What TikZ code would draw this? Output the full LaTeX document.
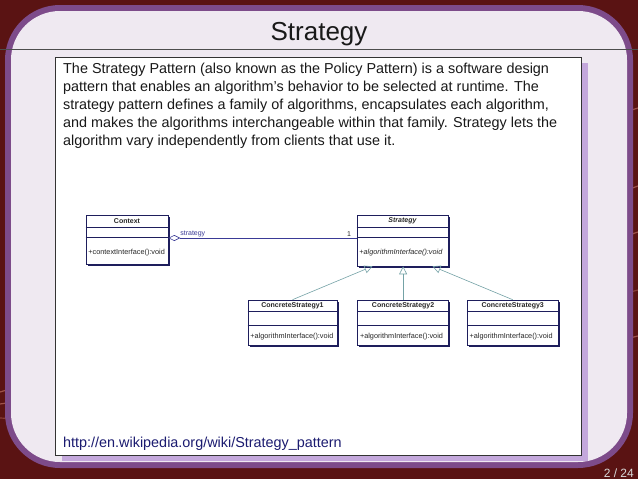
\documentclass[tikz,border=0pt]{standalone}
\usepackage{fontspec}
\setmainfont{Liberation Sans}
\usepackage{xcolor}
\usetikzlibrary{arrows.meta}
\usetikzlibrary{positioning}
\usetikzlibrary{shadows}
\definecolor{bgred}{HTML}{5A1313}
\definecolor{bandpurple}{HTML}{7D4B8A}
\definecolor{panel}{HTML}{EFE9F1}
\definecolor{lavshadow}{HTML}{C4A8DC}
\definecolor{umlnavy}{HTML}{1E1E5C}
\definecolor{umlblue}{HTML}{3A3A96}
\definecolor{genteal}{HTML}{74A2A6}
\definecolor{urlblue}{HTML}{1B1B70}
\definecolor{streak}{HTML}{F0A090}

\begin{document}
\begin{tikzpicture}[x=1pt,y=-1pt,
	class box/.style={draw=umlnavy, fill=white, line width=0.6pt, inner sep=0pt,
		drop shadow={shadow xshift=1.8pt, shadow yshift=-1.8pt, fill=umlnavy, opacity=1}},
	class line/.style={draw=umlnavy, line width=0.5pt},
	class name/.style={font=\fontsize{7}{8}\selectfont\bfseries, text=black!85, inner sep=0pt},
	class op/.style={font=\fontsize{7.3}{8}\selectfont, text=black!85, inner sep=0pt, anchor=west},
	assoc label/.style={font=\fontsize{7}{8}\selectfont, inner sep=1pt},
	gen arrow/.style={draw=genteal, line width=0.6pt, -{Triangle[open, length=8pt, width=8pt]}},
	body text/.style={font=\fontsize{14.4}{18}\selectfont, text=black!90, align=left, inner sep=0pt},
	streak line/.style={draw=streak, line width=1.2pt, opacity=0.45}]
	% Background and panel
	\useasboundingbox (0,0) rectangle (638,479);
	\fill[bgred] (0,0) rectangle (638,479);
	\draw[streak line] (0,392) -- (40,380);
	\draw[streak line] (0,404) -- (40,398);
	\draw[streak line, opacity=0.3] (0,418) -- (40,420);
	\draw[streak line] (600,120) -- (638,108);
	\draw[streak line] (600,200) -- (638,186);
	\draw[streak line] (600,245) -- (638,232);
	\draw[streak line, opacity=0.3] (600,300) -- (638,290);
	\draw[streak line] (600,345) -- (638,336);
	\fill[bandpurple, rounded corners=55pt] (5,5) rectangle (633,468);
	\fill[panel, rounded corners=49pt] (11,11) rectangle (627,462);
	\draw[black!70, line width=0.8pt] (0,49) -- (638,49);
	
	% Title and text box
	\node[font=\fontsize{26}{30}\selectfont, text=black!90, anchor=base] (title) at (319,40) {Strategy};
	\fill[lavshadow] (62,63) rectangle (588,461);
	\draw[fill=white, draw=black!80, line width=0.8pt] (55,57) rectangle (581,455);
	\node[body text, anchor=north west] (intro) at (63,62.5) {The Strategy Pattern (also known as the Policy Pattern) is a software design\\
		pattern that enables an algorithm's behavior to be selected at runtime. The\\
		strategy pattern defines a family of algorithms, encapsulates each algorithm,\\
		and makes the algorithms interchangeable within that family. Strategy lets the\\
		algorithm vary independently from clients that use it.};
	\node[body text, text=urlblue, anchor=base west] (link) at (63,447) {http://en.wikipedia.org/wiki/Strategy\_pattern};
	\node[font=\fontsize{12}{14}\selectfont, text=black!15, anchor=base east, inner sep=0pt] (page) at (634,477) {2 / 24};
	
	% Classes
	\node[class box, minimum width=82pt, minimum height=49pt] (context) at (127,239.5) {};
	\node[class box, minimum width=91pt, minimum height=51pt] (strategy) at (402.5,240.5) {};
	\node[class box, minimum width=89pt, minimum height=45pt] (cs1) at (292.5,322.5) {};
	\node[class box, minimum width=91pt, minimum height=45pt, right=20pt of cs1] (cs2) {};
	\node[class box, minimum width=91pt, minimum height=45pt, right=18pt of cs2] (cs3) {};
	
	\draw[class line] ([yshift=-13pt]context.north west) -- ([yshift=-13pt]context.north east);
	\draw[class line] ([yshift=-23pt]context.north west) -- ([yshift=-23pt]context.north east);
	\draw[class line] ([yshift=-13pt]strategy.north west) -- ([yshift=-13pt]strategy.north east);
	\draw[class line] ([yshift=-23pt]strategy.north west) -- ([yshift=-23pt]strategy.north east);
	\foreach \cs in {cs1,cs2,cs3} {
		\draw[class line] ([yshift=-12pt]\cs.north west) -- ([yshift=-12pt]\cs.north east);
		\draw[class line] ([yshift=-26pt]\cs.north west) -- ([yshift=-26pt]\cs.north east);
	}
	
	\node[class name] (context name) at ([yshift=-6.5pt]context.north) {Context};
	\node[class op] (context op) at ([xshift=2.5pt, yshift=-38pt]context.north west) {+contextInterface():void};
	\node[class name] (strategy name) at ([yshift=-6.5pt]strategy.north) {\itshape Strategy};
	\node[class op] (strategy op) at ([xshift=2.5pt, yshift=-38pt]strategy.north west) {\itshape +algorithmInterface():void};
	\node[class name] (cs1 name) at ([yshift=-6pt]cs1.north) {ConcreteStrategy1};
	\node[class op] (cs1 op) at ([xshift=2.5pt, yshift=-37pt]cs1.north west) {+algorithmInterface():void};
	\node[class name] (cs2 name) at ([yshift=-6pt]cs2.north) {ConcreteStrategy2};
	\node[class op] (cs2 op) at ([xshift=2.5pt, yshift=-37pt]cs2.north west) {+algorithmInterface():void};
	\node[class name] (cs3 name) at ([yshift=-6pt]cs3.north) {ConcreteStrategy3};
	\node[class op] (cs3 op) at ([xshift=2.5pt, yshift=-37pt]cs3.north west) {+algorithmInterface():void};
	
	% Relations
	\path ([yshift=1.5pt]context.east)
	edge[draw=umlblue, line width=0.6pt, {Diamond[open, length=12pt, width=6pt]}-]
	node[assoc label, text=umlblue, pos=0.13, above] {strategy}
	node[assoc label, text=black!85, pos=0.96, above] {1} ([yshift=2.5pt]strategy.west);
	
	\path (cs1.north) edge[gen arrow] ([xshift=-30pt]strategy.south);
	\path (cs2.north) edge[gen arrow] (cs2.north |- strategy.south);
	\path (cs3.north) edge[gen arrow] ([xshift=30pt]strategy.south);
	
\end{tikzpicture}
\end{document}
